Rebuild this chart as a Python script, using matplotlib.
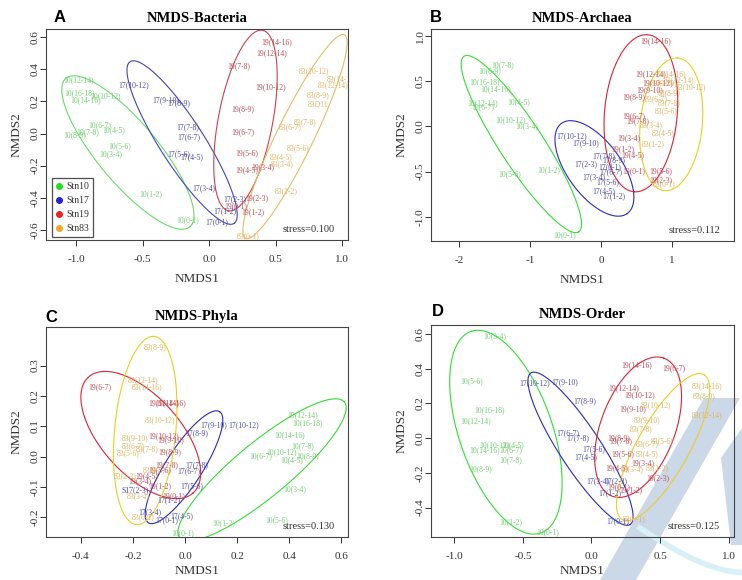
import numpy as np
import matplotlib
matplotlib.use("Agg")
import matplotlib.pyplot as plt
from matplotlib.patches import Polygon
from matplotlib.lines import Line2D

plt.rcParams['axes.unicode_minus'] = False
SERIF = ['Liberation Serif', 'DejaVu Serif']

# ---------------- data ----------------
groups = ["Stn10", "Stn17", "Stn19", "Stn83"]

# Panel A: NMDS-Bacteria
A_10_lab = ["10(12-14)", "10(16-18)", "10(10-12)", "10(14-16)", "10(6-7)", "10(7-8)", "10(4-5)", "10(8-9)", "10(5-6)", "10(3-4)", "10(1-2)", "10(0-1)"]
A_10_x = [-0.98, -0.97, -0.78, -0.93, -0.82, -0.91, -0.72, -1.01, -0.67, -0.74, -0.44, -0.16]
A_10_y = [0.33, 0.25, 0.23, 0.21, 0.05, 0.01, 0.02, -0.01, -0.08, -0.13, -0.38, -0.54]
A_17_lab = ["17(10-12)", "17(9-10)", "17(8-9)", "17(7-8)", "17(6-7)", "17(5-6)", "17(4-5)", "17(3-4)", "17(2-3)", "17(1-2)", "17(0-1)"]
A_17_x = [-0.57, -0.33, -0.23, -0.16, -0.15, -0.23, -0.13, -0.04, 0.19, 0.12, 0.06]
A_17_y = [0.30, 0.21, 0.19, 0.04, -0.02, -0.13, -0.15, -0.34, -0.41, -0.48, -0.55]
A_19_lab = ["19(14-16)", "19(12-14)", "19(7-8)", "19(10-12)", "19(8-9)", "19(6-7)", "19(5-6)", "19(4-5)", "19(3-4)", "19(2-3)", "19(1-2)", "19(0-1)"]
A_19_x = [0.51, 0.47, 0.22, 0.46, 0.25, 0.25, 0.28, 0.28, 0.40, 0.36, 0.33, 0.20]
A_19_y = [0.57, 0.50, 0.42, 0.29, 0.15, 0.01, -0.12, -0.23, -0.21, -0.40, -0.49, -0.45]
A_83_lab = ["83(10-12)", "83(14-16)", "83(12-14)", "83(8-9)", "83D11", "83(7-8)", "83(6-7)", "83(5-6)", "83(4-5)", "83(3-4)", "83(1-2)", "83(0-1)"]
A_83_x = [0.79, 1.00, 0.93, 0.82, 0.82, 0.72, 0.61, 0.67, 0.54, 0.55, 0.58, 0.29]
A_83_y = [0.39, 0.34, 0.30, 0.24, 0.18, 0.07, 0.04, -0.09, -0.15, -0.19, -0.36, -0.64]

# Panel B: NMDS-Archaea
B_10_lab = ["10(7-8)", "10(8-9)", "10(16-18)", "10(14-16)", "10(12-14)", "10(6-7)", "10(4-5)", "10(10-12)", "10(3-4)", "10(5-6)", "10(1-2)", "10(0-1)"]
B_10_x = [-1.38, -1.57, -1.64, -1.49, -1.67, -1.66, -1.16, -1.27, -1.05, -1.29, -0.74, -0.52]
B_10_y = [0.68, 0.61, 0.49, 0.41, 0.25, 0.21, 0.27, 0.07, 0.00, -0.53, -0.48, -1.20]
B_17_lab = ["17(10-12)", "17(9-10)", "17(7-8)", "17(8-9)", "17(2-3)", "17(6-7)", "17(3-4)", "17(5-6)", "17(4-5)", "17(1-2)", "17(0-1)"]
B_17_x = [-0.41, -0.22, 0.04, 0.18, -0.21, 0.14, -0.10, 0.09, 0.04, 0.18, 0.12]
B_17_y = [-0.11, -0.19, -0.33, -0.37, -0.42, -0.51, -0.56, -0.62, -0.72, -0.77, -0.45]
B_19_lab = ["19(14-16)", "19(12-14)", "19(10-12)", "19(9-10)", "19(8-9)", "19(6-7)", "19(7-8)", "19(3-4)", "19(1-2)", "19(4-5)", "19(0-1)", "19(5-6)", "19(2-3)"]
B_19_x = [0.77, 0.70, 0.80, 0.68, 0.46, 0.46, 0.51, 0.39, 0.31, 0.44, 0.46, 0.84, 0.84]
B_19_y = [0.94, 0.57, 0.48, 0.40, 0.32, 0.11, 0.06, -0.13, -0.25, -0.32, -0.49, -0.49, -0.59]
B_83_lab = ["83(14-16)", "83(12-14)", "83(10-12)", "83(9-10)", "83(8-9)", "83(6-7)", "83(7-8)", "83(5-6)", "83(3-4)", "83(4-5)", "83(1-2)", "83(0-1)"]
B_83_x = [0.99, 1.10, 1.27, 0.89, 0.96, 0.77, 0.96, 0.91, 0.70, 0.87, 0.73, 0.88]
B_83_y = [0.58, 0.51, 0.43, 0.48, 0.36, 0.30, 0.25, 0.17, 0.01, -0.08, -0.20, -0.64]

# Panel C: NMDS-Phyla
C_10_lab = ["10(12-14)", "10(16-18)", "10(14-16)", "10(7-8)", "10(10-12)", "10(6-7)", "10(4-5)", "10(8-9)", "10(3-4)", "10(5-6)", "10(1-2)", "10(0-1)"]
C_10_x = [0.45, 0.47, 0.40, 0.45, 0.37, 0.29, 0.41, 0.47, 0.42, 0.35, 0.15, -0.01]
C_10_y = [0.137, 0.109, 0.071, 0.033, 0.013, 0.002, -0.011, 0.000, -0.107, -0.211, -0.219, -0.252]
C_17_lab = ["17(9-10)", "17(10-12)", "17(8-9)", "17(7-8)", "17(6-7)", "17(5-6)", "S17(2-3)", "17(1-2)", "17(3-4)", "17(4-5)", "17(0-1)"]
C_17_x = [0.109, 0.223, 0.045, 0.045, 0.013, 0.026, -0.19, -0.064, -0.134, -0.013, -0.07]
C_17_y = [0.104, 0.104, 0.077, -0.027, -0.049, -0.098, -0.112, -0.144, -0.184, -0.197, -0.208]
C_19_lab = ["19(6-7)", "19(12-14)", "19(14-16)", "19(10-12)", "19(9-10)", "19(8-9)", "19(7-8)", "19(5-6)", "19(4-5)", "19(3-4)", "19(1-2)", "19(0-1)"]
C_19_x = [-0.326, -0.083, -0.057, -0.083, -0.057, -0.057, -0.07, -0.096, -0.147, -0.172, -0.096, -0.045]
C_19_y = [0.23, 0.175, 0.175, 0.066, 0.055, 0.016, -0.027, -0.044, -0.066, -0.082, -0.096, -0.131]
C_83_lab = ["83(8-9)", "83(12-14)", "83(14-16)", "83(10-12)", "83(9-10)", "83(6-7)", "83(5-6)", "83(7-8)", "83(2-3)", "83(4-5)", "83(3-4)", "83(0-1)"]
C_83_x = [-0.115, -0.16, -0.146, -0.096, -0.19, -0.198, -0.217, -0.147, -0.23, -0.12, -0.179, -0.16]
C_83_y = [0.359, 0.252, 0.23, 0.12, 0.06, 0.033, 0.011, 0.026, -0.066, -0.044, -0.131, -0.20]

# Panel D: NMDS-Order
D_10_lab = ["10(3-4)", "10(5-6)", "10(16-18)", "10(12-14)", "10(10-12)", "10(4-5)", "10(14-16)", "10(6-7)", "10(7-8)", "10(8-9)", "10(1-2)", "10(0-1)"]
D_10_x = [-0.709, -0.874, -0.745, -0.842, -0.709, -0.575, -0.782, -0.587, -0.587, -0.811, -0.592, -0.316]
D_10_y = [0.588, 0.326, 0.159, 0.096, -0.038, -0.038, -0.067, -0.071, -0.128, -0.178, -0.485, -0.542]
D_17_lab = ["17(10-12)", "17(9-10)", "17(8-9)", "17(6-7)", "17(7-8)", "17(5-6)", "17(4-5)", "17(3-4)", "17(2-3)", "17(1-2)", "17(0-1)"]
D_17_x = [-0.417, -0.199, -0.053, -0.17, -0.097, 0.015, -0.041, 0.049, 0.177, 0.136, 0.189]
D_17_y = [0.316, 0.32, 0.211, 0.029, -0.002, -0.061, -0.109, -0.245, -0.245, -0.316, -0.479]
D_19_lab = ["19(14-16)", "19(6-7)", "19(12-14)", "19(10-12)", "19(9-10)", "19(8-9)", "19(7-8)", "19(5-6)", "19(3-4)", "19(4-5)", "19(1-2)", "19(2-3)", "19(0-1)"]
D_19_x = [0.33, 0.602, 0.238, 0.347, 0.299, 0.201, 0.214, 0.226, 0.371, 0.184, 0.286, 0.481, 0.20]
D_19_y = [0.421, 0.402, 0.285, 0.247, 0.167, 0.0, -0.019, -0.092, -0.144, -0.172, -0.297, -0.23, -0.28]
D_83_lab = ["83(14-16)", "83(8-9)", "83(12-14)", "83(10-12)", "83(9-10)", "83(7-8)", "83(5-6)", "83(6-7)", "83(4-5)", "83(3-4)", "83(1-2)", "83(0-1)"]
D_83_x = [0.845, 0.82, 0.845, 0.468, 0.408, 0.364, 0.517, 0.408, 0.408, 0.299, 0.481, 0.311]
D_83_y = [0.301, 0.243, 0.13, 0.188, 0.105, 0.052, -0.019, -0.033, -0.092, -0.178, -0.172, -0.469]

# Ellipses: centre, semi-axis vector u, conjugate semi-axis vector v (data units)
A_ell_c = [(-0.61, -0.118), (-0.203, -0.056), (0.273, 0.081), (0.645, -0.019)]
A_ell_u = [(0.465, -0.462), (0.39, -0.503), (-0.128, -0.561), (-0.371, -0.633)]
A_ell_v = [(0.174, 0.120), (0.139, 0.075), (0.201, -0.031), (0.125, -0.05)]
B_ell_c = [(-1.123, -0.196), (-0.095, -0.465), (0.559, 0.144), (0.986, 0.022)]
B_ell_u = [(0.806, -0.969), (0.462, -0.498), (-0.095, -0.867), (0.095, 0.732)]
B_ell_v = [(0.259, 0.131), (0.308, 0.173), (0.51, -0.033), (0.434, -0.034)]
C_ell_c = [(0.296, -0.044), (-0.004, -0.035), (-0.17, 0.071), (-0.153, 0.086)]
C_ell_u = [(0.316, 0.224), (0.137, 0.183), (0.201, -0.191), (0.0345, 0.310)]
C_ell_v = [(0.0668, -0.069), (0.059, -0.0325), (0.112, 0.0865), (0.117, -0.0095)]
D_ell_c = [(-0.624, 0.034), (-0.08, -0.061), (0.34, 0.063), (0.522, -0.052)]
D_ell_u = [(-0.255, 0.58), (0.362, -0.436), (0.189, 0.397), (0.297, 0.417)]
D_ell_v = [(0.321, 0.088), (0.126, 0.065), (0.254, -0.075), (0.165, -0.073)]

stress = ["stress=0.100", "stress=0.112", "stress=0.130", "stress=0.125"]
titles = ["NMDS-Bacteria", "NMDS-Archaea", "NMDS-Phyla", "NMDS-Order"]
letters = ["A", "B", "C", "D"]

A_xt = [-1.0, -0.5, 0.0, 0.5, 1.0]; A_xtl = ["-1.0", "-0.5", "0.0", "0.5", "1.0"]
A_yt = [-0.6, -0.4, -0.2, 0.0, 0.2, 0.4, 0.6]; A_ytl = ["-0.6", "-0.4", "-0.2", "0.0", "0.2", "0.4", "0.6"]
B_xt = [-2, -1, 0, 1]; B_xtl = ["-2", "-1", "0", "1"]
B_yt = [-1.0, -0.5, 0.0, 0.5, 1.0]; B_ytl = ["-1.0", "-0.5", "0.0", "0.5", "1.0"]
C_xt = [-0.4, -0.2, 0.0, 0.2, 0.4, 0.6]; C_xtl = ["-0.4", "-0.2", "0.0", "0.2", "0.4", "0.6"]
C_yt = [-0.2, -0.1, 0.0, 0.1, 0.2, 0.3]; C_ytl = ["-0.2", "-0.1", "0.0", "0.1", "0.2", "0.3"]
D_xt = [-1.0, -0.5, 0.0, 0.5, 1.0]; D_xtl = ["-1.0", "-0.5", "0.0", "0.5", "1.0"]
D_yt = [-0.4, -0.2, 0.0, 0.2, 0.4, 0.6]; D_ytl = ["-0.4", "-0.2", "0.0", "0.2", "0.4", "0.6"]

# ---------------- style ----------------
label_cols = ["#6fd06f", "#4a4ab0", "#c04a55", "#e0b25e"]
ell_cols_light = ["#66dd66", "#4444bb", "#d0404a", "#e6bb66"]
ell_cols_strong = ["#33dd33", "#2a2ac0", "#dd2233", "#eecc22"]
legend_cols = ["#22dd22", "#2222dd", "#ee2222", "#f5a623"]

W, H = 742, 580
fig = plt.figure(figsize=(W / 100, H / 100), dpi=100)
fig.patch.set_facecolor("white")

def rect(l, r, t, b):
    return [l / W, 1 - b / H, (r - l) / W, (b - t) / H]

panels = [
    dict(pos=rect(46, 348, 29, 240), xlim=(-1.225, 1.043), ylim=(-0.662, 0.65),
         pts=[(A_10_lab, A_10_x, A_10_y), (A_17_lab, A_17_x, A_17_y), (A_19_lab, A_19_x, A_19_y), (A_83_lab, A_83_x, A_83_y)],
         ell=(A_ell_c, A_ell_u, A_ell_v), ecol=ell_cols_light, xt=(A_xt, A_xtl), yt=(A_yt, A_ytl),
         letter_xy=(60, 17), xlp=6),
    dict(pos=rect(431, 734, 29, 241), xlim=(-2.394, 1.869), ylim=(-1.266, 1.074),
         pts=[(B_10_lab, B_10_x, B_10_y), (B_17_lab, B_17_x, B_17_y), (B_19_lab, B_19_x, B_19_y), (B_83_lab, B_83_x, B_83_y)],
         ell=(B_ell_c, B_ell_u, B_ell_v), ecol=ell_cols_strong, xt=(B_xt, B_xtl), yt=(B_yt, B_ytl),
         letter_xy=(436, 17), xlp=6),
    dict(pos=rect(46, 348, 327, 537), xlim=(-0.534, 0.626), ylim=(-0.265, 0.427),
         pts=[(C_10_lab, C_10_x, C_10_y), (C_17_lab, C_17_x, C_17_y), (C_19_lab, C_19_x, C_19_y), (C_83_lab, C_83_x, C_83_y)],
         ell=(C_ell_c, C_ell_u, C_ell_v), ecol=ell_cols_strong, xt=(C_xt, C_xtl), yt=(C_yt, C_ytl),
         letter_xy=(51, 317), xlp=3),
    dict(pos=rect(431, 734, 325, 537), xlim=(-1.17, 1.039), ylim=(-0.569, 0.651),
         pts=[(D_10_lab, D_10_x, D_10_y), (D_17_lab, D_17_x, D_17_y), (D_19_lab, D_19_x, D_19_y), (D_83_lab, D_83_x, D_83_y)],
         ell=(D_ell_c, D_ell_u, D_ell_v), ecol=ell_cols_strong, xt=(D_xt, D_xtl), yt=(D_yt, D_ytl),
         letter_xy=(438, 312), xlp=3),
]

# watermark (decoration behind panel D)
wm = "#cad8e8"
fig.add_artist(Polygon([(600 / W, 0), (636 / W, 0), (740 / W, 1 - 398 / H), (704 / W, 1 - 398 / H)],
                       closed=True, transform=fig.transFigure, facecolor=wm, edgecolor="none", zorder=-5))
fig.add_artist(Polygon([(721 / W, 1 - 458 / H), (742 / W, 1 - 428 / H), (742 / W, 1 - 545 / H), (731 / W, 1 - 545 / H)],
                       closed=True, transform=fig.transFigure, facecolor=wm, edgecolor="none", zorder=-5))
tt = np.linspace(0, 1, 50)
fig.add_artist(Line2D((640 + 110 * tt) / W, 1 - (528 + 45 * np.sin(tt * np.pi / 2)) / H,
                      transform=fig.transFigure, color="#d8f0f8", lw=4, zorder=-5))

t = np.linspace(0, 2 * np.pi, 300)
for i, p in enumerate(panels):
    ax = fig.add_axes(p["pos"])
    ax.patch.set_alpha(0)
    ax.set_xlim(*p["xlim"]); ax.set_ylim(*p["ylim"])
    for (labs, xs, ys), col in zip(p["pts"], label_cols):
        for lab, x, y in zip(labs, xs, ys):
            ax.text(x, y, lab, ha="center", va="center", fontsize=5.5, color=col,
                    family=SERIF, clip_on=True)
    cs, us, vs = p["ell"]
    for c, u, v, col in zip(cs, us, vs, p["ecol"]):
        ex = c[0] + np.cos(t) * u[0] + np.sin(t) * v[0]
        ey = c[1] + np.cos(t) * u[1] + np.sin(t) * v[1]
        ax.plot(ex, ey, color=col, lw=0.8, clip_on=True)
    ax.set_xticks(p["xt"][0]); ax.set_xticklabels(p["xt"][1], family=SERIF, fontsize=8, color="#333333")
    ax.set_yticks(p["yt"][0]); ax.set_yticklabels(p["yt"][1], family=SERIF, fontsize=8, color="#333333",
                                                  rotation=90, va="center")
    ax.tick_params(axis="x", length=4, width=0.7, pad=7, colors="#333333")
    ax.tick_params(axis="y", length=4, width=0.7, pad=0.5, colors="#333333")
    for sp in ax.spines.values():
        sp.set_color("#444444"); sp.set_linewidth(0.8)
    ax.set_xlabel("NMDS1", family=SERIF, fontsize=9.5, color="#333333", labelpad=p["xlp"])
    ax.set_ylabel("NMDS2", family=SERIF, fontsize=9.5, color="#333333", labelpad=6)
    ax.set_title(titles[i], family=SERIF, fontsize=10.5, fontweight="bold", pad=5)
    ax.text(0.955, 0.05, stress[i], transform=ax.transAxes, ha="right", va="center",
            family=SERIF, fontsize=7.5, color="#333333")
    lx, ly = p["letter_xy"]
    fig.text(lx / W, 1 - ly / H, letters[i], ha="center", va="center", fontsize=12,
             fontweight="bold", family=["Liberation Sans", "DejaVu Sans"])
    if i == 0:
        handles = [Line2D([], [], marker="o", linestyle="none", markersize=4, markerfacecolor=c,
                          markeredgecolor=c) for c in legend_cols]
        leg = ax.legend(handles, groups, loc="lower left", bbox_to_anchor=(0.02, 0.015),
                        prop={"family": SERIF, "size": 7}, frameon=True, fancybox=False,
                        handlelength=0.6, handletextpad=0.5, borderpad=0.4, labelspacing=0.5,
                        borderaxespad=0)
        leg.get_frame().set_edgecolor("#222222"); leg.get_frame().set_linewidth(0.9)
        for txt in leg.get_texts():
            txt.set_color("#333333")

fig.savefig("out.png", dpi=100, facecolor="white")
